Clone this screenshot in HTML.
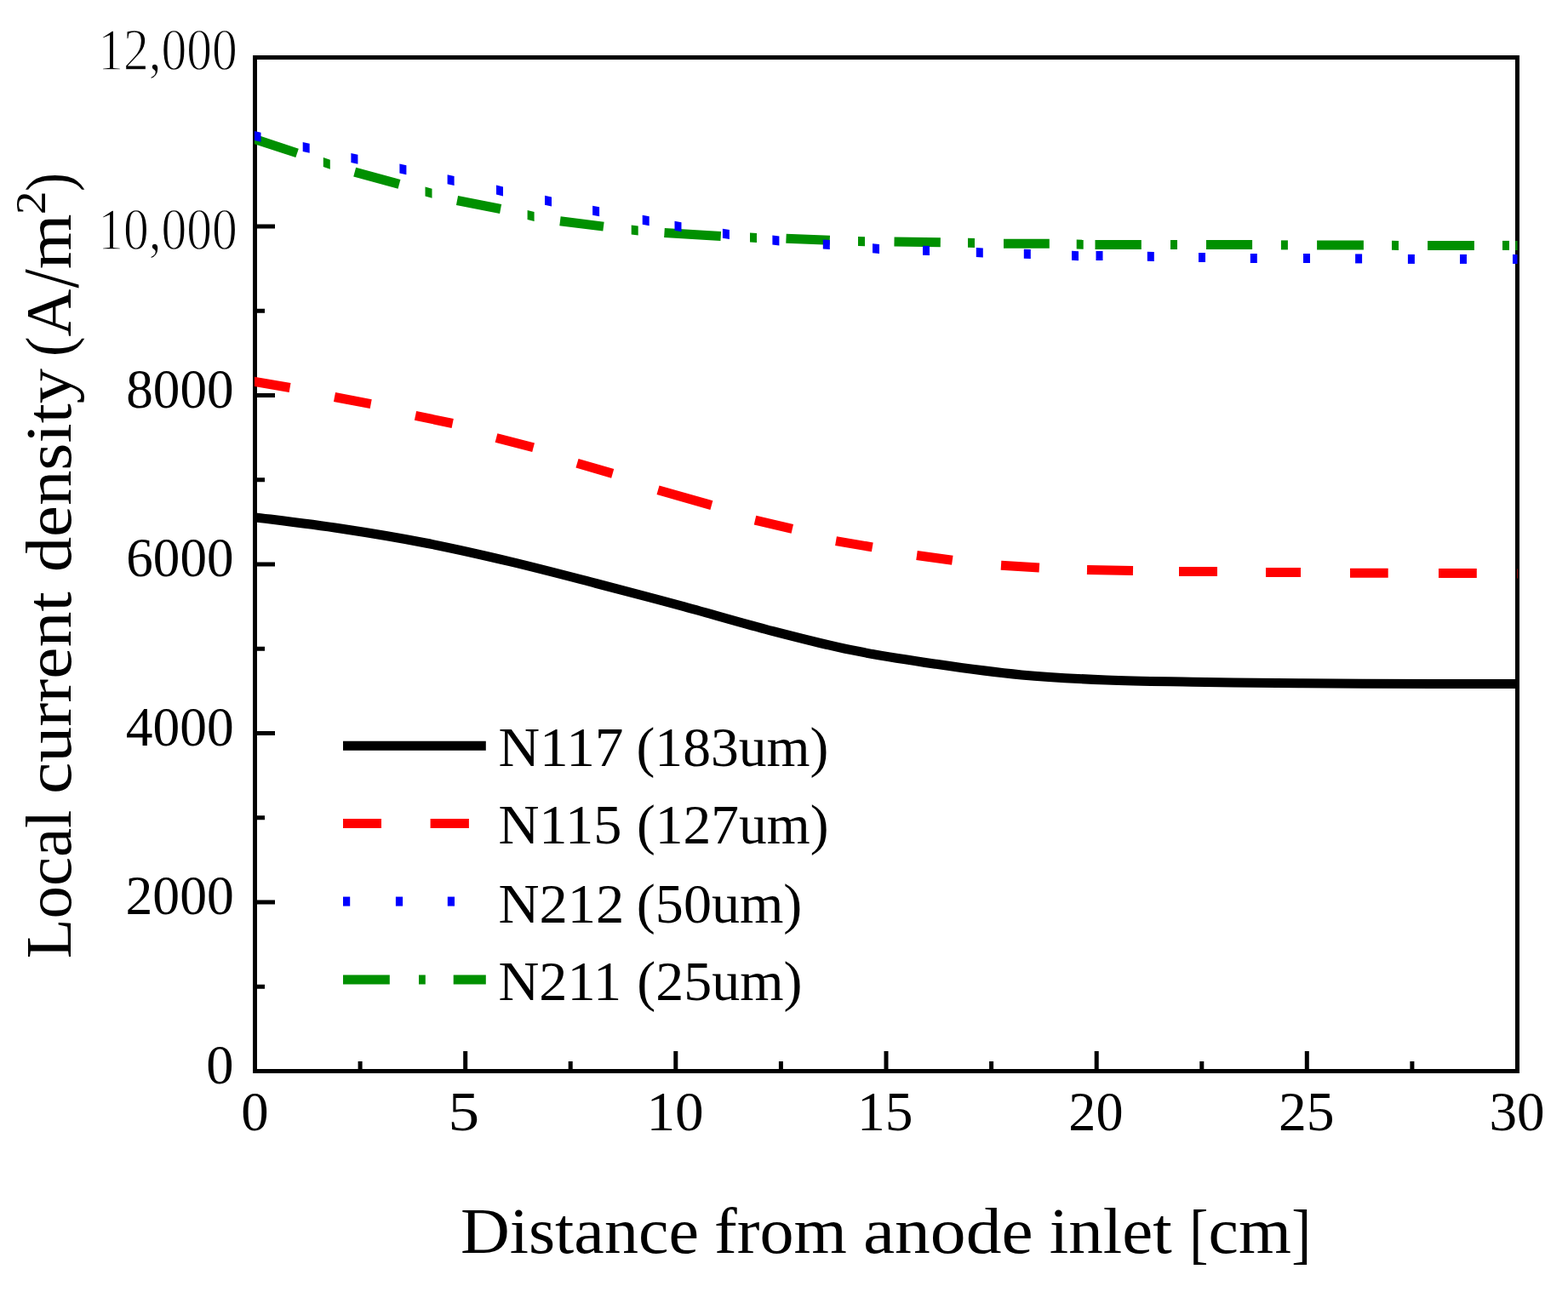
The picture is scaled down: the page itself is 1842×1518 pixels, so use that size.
<!DOCTYPE html>
<html><head><meta charset="utf-8"><title>Local current density vs distance</title>
<style>html,body{margin:0;padding:0;background:#fff}svg{display:block}</style></head>
<body><svg width="1842" height="1518" viewBox="0 0 1842 1518">
<rect width="1842" height="1518" fill="#fff"/>
<path d="M299.5,1258.5h23.5 M299.5,1159.2h11.5 M299.5,1060.0h23.5 M299.5,960.8h11.5 M299.5,861.5h23.5 M299.5,762.2h11.5 M299.5,663.0h23.5 M299.5,563.8h11.5 M299.5,464.5h23.5 M299.5,365.2h11.5 M299.5,266.0h23.5 M299.5,166.8h11.5 M299.5,67.5h23.5 M299.5,1258.5v-23.5 M423.1,1258.5v-11.5 M546.7,1258.5v-23.5 M670.2,1258.5v-11.5 M793.8,1258.5v-23.5 M917.4,1258.5v-11.5 M1041.0,1258.5v-23.5 M1164.6,1258.5v-11.5 M1288.2,1258.5v-23.5 M1411.8,1258.5v-11.5 M1535.3,1258.5v-23.5 M1658.9,1258.5v-11.5 M1782.5,1258.5v-23.5" stroke="#000" stroke-width="5" fill="none"/>
<rect x="299.5" y="67.5" width="1483.0" height="1191.0" fill="none" stroke="#000" stroke-width="5"/>
<defs><clipPath id="pc"><rect x="299" y="67.5" width="1483.5" height="1191.0"/></clipPath></defs>
<g clip-path="url(#pc)"><path d="M296.0,607.3 C313.3,609.6 366.0,615.9 400.0,621.0 C434.0,626.1 466.7,631.5 500.0,638.0 C533.3,644.5 566.7,652.1 600.0,660.0 C633.3,667.9 666.7,676.7 700.0,685.3 C733.3,693.9 766.7,702.8 800.0,711.8 C833.3,720.8 866.7,730.9 900.0,739.5 C933.3,748.1 966.7,756.9 1000.0,763.7 C1033.3,770.5 1066.7,775.4 1100.0,780.3 C1133.3,785.2 1166.7,789.8 1200.0,792.9 C1233.3,796.0 1266.7,797.6 1300.0,799.0 C1333.3,800.4 1366.7,800.6 1400.0,801.2 C1433.3,801.8 1466.7,802.2 1500.0,802.5 C1533.3,802.8 1552.3,803.0 1600.0,803.2 C1647.7,803.4 1755.0,803.5 1786.0,803.5" fill="none" stroke="#000" stroke-width="11"/><g><line x1="296.0" y1="447.8" x2="340.6" y2="455.5" stroke="#f00" stroke-width="11"/><line x1="393.0" y1="466.5" x2="435.7" y2="474.7" stroke="#f00" stroke-width="11"/><line x1="488.0" y1="488.4" x2="531.7" y2="497.5" stroke="#f00" stroke-width="11"/><line x1="583.0" y1="514.5" x2="626.6" y2="525.8" stroke="#f00" stroke-width="11"/><line x1="678.0" y1="544.2" x2="719.7" y2="556.4" stroke="#f00" stroke-width="11"/><line x1="773.0" y1="575.8" x2="835.9" y2="593.6" stroke="#f00" stroke-width="11"/><line x1="887.0" y1="611.2" x2="930.8" y2="621.4" stroke="#f00" stroke-width="11"/><line x1="982.0" y1="635.6" x2="1024.8" y2="642.9" stroke="#f00" stroke-width="11"/><line x1="1077.0" y1="652.5" x2="1118.8" y2="658.3" stroke="#f00" stroke-width="11"/><line x1="1176.0" y1="664.3" x2="1220.9" y2="667.1" stroke="#f00" stroke-width="11"/><line x1="1277.0" y1="669.4" x2="1331.0" y2="670.4" stroke="#f00" stroke-width="11"/><line x1="1385.0" y1="671.5" x2="1430.0" y2="671.5" stroke="#f00" stroke-width="11"/><line x1="1487.0" y1="672.4" x2="1528.0" y2="672.4" stroke="#f00" stroke-width="11"/><line x1="1586.0" y1="673.3" x2="1630.7" y2="673.3" stroke="#f00" stroke-width="11"/><line x1="1690.0" y1="673.6" x2="1734.8" y2="673.6" stroke="#f00" stroke-width="11"/><line x1="1782.0" y1="673.9" x2="1786.0" y2="673.9" stroke="#f00" stroke-width="11"/></g><g><line x1="296.0" y1="162.4" x2="349.1" y2="179.9" stroke="#009000" stroke-width="11"/><line x1="416.7" y1="202.1" x2="469.0" y2="216.4" stroke="#009000" stroke-width="11"/><line x1="537.0" y1="235.5" x2="588.1" y2="245.5" stroke="#009000" stroke-width="11"/><line x1="658.0" y1="259.8" x2="709.0" y2="266.1" stroke="#009000" stroke-width="11"/><line x1="780.5" y1="273.4" x2="846.8" y2="277.4" stroke="#009000" stroke-width="11"/><line x1="923.5" y1="280.3" x2="974.8" y2="282.3" stroke="#009000" stroke-width="11"/><line x1="1050.5" y1="284.1" x2="1104.8" y2="284.8" stroke="#009000" stroke-width="11"/><line x1="1179.0" y1="286.2" x2="1232.8" y2="286.2" stroke="#009000" stroke-width="11"/><line x1="1286.5" y1="287.5" x2="1340.8" y2="287.5" stroke="#009000" stroke-width="11"/><line x1="1417.0" y1="287.6" x2="1471.1" y2="287.6" stroke="#009000" stroke-width="11"/><line x1="1547.1" y1="287.9" x2="1601.9" y2="287.9" stroke="#009000" stroke-width="11"/><line x1="1677.1" y1="288.4" x2="1731.9" y2="288.4" stroke="#009000" stroke-width="11"/><line x1="1780.2" y1="288.4" x2="1786.0" y2="288.4" stroke="#009000" stroke-width="11"/><polygon points="379.8,185.0 387.8,187.8 387.8,198.8 379.8,196.0" fill="#009000"/><polygon points="499.5,219.5 507.5,221.7 507.5,232.7 499.5,230.5" fill="#009000"/><polygon points="619.6,247.1 627.6,248.9 627.6,259.9 619.6,258.1" fill="#009000"/><polygon points="741.7,264.4 749.7,265.4 749.7,276.4 741.7,275.4" fill="#009000"/><polygon points="881.0,273.6 889.0,274.0 889.0,285.0 881.0,284.6" fill="#009000"/><polygon points="1008.0,278.0 1016.0,278.2 1016.0,289.2 1008.0,289.0" fill="#009000"/><polygon points="1137.0,279.8 1145.0,280.0 1145.0,291.0 1137.0,290.8" fill="#009000"/><polygon points="1264.7,281.5 1272.7,281.7 1272.7,292.7 1264.7,292.5" fill="#009000"/><polygon points="1375.0,282.0 1383.0,282.0 1383.0,293.0 1375.0,293.0" fill="#009000"/><polygon points="1504.9,282.4 1512.9,282.4 1512.9,293.4 1504.9,293.4" fill="#009000"/><polygon points="1635.0,282.8 1643.0,283.0 1643.0,294.0 1635.0,293.8" fill="#009000"/><polygon points="1765.0,282.9 1773.0,282.9 1773.0,293.9 1765.0,293.9" fill="#009000"/></g><g><polygon points="298.5,154.0 306.5,155.8 306.5,166.8 298.5,165.0" fill="#00f"/><polygon points="355.7,167.0 363.7,168.8 363.7,179.8 355.7,178.0" fill="#00f"/><polygon points="412.4,179.9 420.4,181.7 420.4,192.7 412.4,190.9" fill="#00f"/><polygon points="469.4,192.5 477.4,194.3 477.4,205.3 469.4,203.5" fill="#00f"/><polygon points="525.6,205.3 533.6,207.1 533.6,218.1 525.6,216.3" fill="#00f"/><polygon points="583.0,217.6 591.0,219.4 591.0,230.4 583.0,228.6" fill="#00f"/><polygon points="640.0,229.8 648.0,231.4 648.0,242.4 640.0,240.8" fill="#00f"/><polygon points="696.1,241.7 704.1,243.3 704.1,254.3 696.1,252.7" fill="#00f"/><polygon points="754.7,252.7 762.7,254.3 762.7,265.3 754.7,263.7" fill="#00f"/><polygon points="792.5,259.8 800.5,261.2 800.5,272.2 792.5,270.8" fill="#00f"/><polygon points="848.9,268.8 856.9,270.0 856.9,281.0 848.9,279.8" fill="#00f"/><polygon points="907.4,276.4 915.4,277.4 915.4,288.4 907.4,287.4" fill="#00f"/><polygon points="966.8,281.4 974.8,282.0 974.8,293.0 966.8,292.4" fill="#00f"/><polygon points="1025.0,286.3 1033.0,286.9 1033.0,297.9 1025.0,297.3" fill="#00f"/><polygon points="1084.0,288.7 1092.0,289.1 1092.0,300.1 1084.0,299.7" fill="#00f"/><polygon points="1146.8,291.1 1154.8,291.5 1154.8,302.5 1146.8,302.1" fill="#00f"/><polygon points="1202.8,292.7 1210.8,292.9 1210.8,303.9 1202.8,303.7" fill="#00f"/><polygon points="1259.0,294.8 1267.0,295.2 1267.0,306.2 1259.0,305.8" fill="#00f"/><polygon points="1287.5,295.0 1295.5,295.0 1295.5,306.0 1287.5,306.0" fill="#00f"/><polygon points="1347.8,295.8 1355.8,296.0 1355.8,307.0 1347.8,306.8" fill="#00f"/><polygon points="1408.0,296.9 1416.0,297.1 1416.0,308.1 1408.0,307.9" fill="#00f"/><polygon points="1468.8,297.9 1476.8,298.1 1476.8,309.1 1468.8,308.9" fill="#00f"/><polygon points="1531.0,298.0 1539.0,298.0 1539.0,309.0 1531.0,309.0" fill="#00f"/><polygon points="1592.1,298.4 1600.1,298.4 1600.1,309.4 1592.1,309.4" fill="#00f"/><polygon points="1653.9,298.9 1661.9,298.9 1661.9,309.9 1653.9,309.9" fill="#00f"/><polygon points="1715.0,298.9 1723.0,298.9 1723.0,309.9 1715.0,309.9" fill="#00f"/><polygon points="1777.0,298.9 1785.0,298.9 1785.0,309.9 1777.0,309.9" fill="#00f"/></g></g>
<g font-family="Liberation Serif, serif" fill="#000"><g stroke="#fff" stroke-width="1.3"><text transform="translate(115.24,81.60) scale(0.8440,1)" font-size="70.50">12,000</text><text transform="translate(115.24,293.00) scale(0.8440,1)" font-size="70.50">10,000</text></g><text transform="translate(148.27,479.00) scale(0.9616,1)" font-size="65.70">8000</text><text transform="translate(148.28,677.00) scale(0.9608,1)" font-size="65.70">6000</text><text transform="translate(147.83,875.90) scale(0.9666,1)" font-size="65.70">4000</text><text transform="translate(147.45,1074.10) scale(0.9695,1)" font-size="65.70">2000</text><text transform="translate(242.32,1272.80) scale(0.9821,1)" font-size="65.70">0</text><text transform="translate(283.21,1327.90) scale(0.9857,1)" font-size="65.70">0</text><text transform="translate(526.61,1327.90) scale(1.1149,1)" font-size="65.70">5</text><text transform="translate(759.44,1327.90) scale(1.0252,1)" font-size="65.70">10</text><text transform="translate(1007.10,1327.90) scale(0.9972,1)" font-size="65.70">15</text><text transform="translate(1255.33,1327.90) scale(0.9778,1)" font-size="65.70">20</text><text transform="translate(1501.97,1327.90) scale(0.9993,1)" font-size="65.70">25</text><text transform="translate(1749.44,1327.90) scale(0.9919,1)" font-size="65.70">30</text><text transform="translate(540.90,1471.70) scale(1.0576,1)" font-size="75.70">Distance</text><text transform="translate(839.10,1471.70) scale(1.0582,1)" font-size="75.70">from</text><text transform="translate(1013.95,1471.70) scale(1.1048,1)" font-size="75.70">anode</text><text transform="translate(1232.78,1471.70) scale(1.0704,1)" font-size="75.70">inlet</text><text transform="translate(1419.61,1471.70) scale(1.0523,1)" font-size="75.70">cm</text><text transform="translate(1397.14,1476.30) scale(0.8496,1)" font-size="78.30">[</text><text transform="translate(1517.24,1476.30) scale(0.8824,1)" font-size="78.30">]</text><text transform="translate(585.38,900.10) scale(1.0422,1)" font-size="64.60">N117</text><text transform="translate(747.48,900.10) scale(1.0159,1)" font-size="64.60">(183um)</text><text transform="translate(585.41,991.20) scale(1.0274,1)" font-size="64.60">N115</text><text transform="translate(747.88,991.20) scale(1.0140,1)" font-size="64.60">(127um)</text><text transform="translate(585.40,1083.60) scale(1.0308,1)" font-size="64.60">N212</text><text transform="translate(747.86,1083.60) scale(1.0230,1)" font-size="64.60">(50um)</text><text transform="translate(585.41,1175.20) scale(1.0258,1)" font-size="64.60">N211</text><text transform="translate(748.36,1175.20) scale(1.0213,1)" font-size="64.60">(25um)</text><text transform="translate(82.90,1126.30) rotate(-90) scale(1.0035,1)" font-size="76.50">Local</text><text transform="translate(82.90,932.96) rotate(-90) scale(1.0975,1)" font-size="76.50">current</text><text transform="translate(82.90,672.32) rotate(-90) scale(1.0835,1)" font-size="76.50">density</text><text transform="translate(82.90,418.93) rotate(-90) scale(0.9251,1)" font-size="76.50">(</text><text transform="translate(82.90,395.57) rotate(-90) scale(1.0084,1)" font-size="76.50">A</text><text transform="translate(82.90,316.37) rotate(-90) scale(1.0899,1)" font-size="76.50">m</text><text transform="translate(82.90,224.75) rotate(-90) scale(0.8497,1)" font-size="76.50">)</text><text transform="translate(52.90,252.23) rotate(-90) scale(1.0889,1)" font-size="51.20">2</text><text transform="translate(90.80,338.40) rotate(-90) scale(0.8678,1)" font-size="92.60">/</text></g>
<line x1="403.0" y1="876.3" x2="570.8" y2="876.3" stroke="#000" stroke-width="11"/><line x1="403.0" y1="967.5" x2="448.0" y2="967.5" stroke="#f00" stroke-width="11"/><line x1="505.6" y1="967.5" x2="550.9" y2="967.5" stroke="#f00" stroke-width="11"/><line x1="403.0" y1="1059.1" x2="411.2" y2="1059.1" stroke="#00f" stroke-width="11"/><line x1="464.9" y1="1059.1" x2="473.1" y2="1059.1" stroke="#00f" stroke-width="11"/><line x1="525.8" y1="1059.1" x2="534.0" y2="1059.1" stroke="#00f" stroke-width="11"/><line x1="403.0" y1="1151.0" x2="457.8" y2="1151.0" stroke="#009000" stroke-width="11"/><line x1="492.0" y1="1151.0" x2="499.8" y2="1151.0" stroke="#009000" stroke-width="11"/><line x1="532.7" y1="1151.0" x2="570.8" y2="1151.0" stroke="#009000" stroke-width="11"/>
</svg></body></html>
